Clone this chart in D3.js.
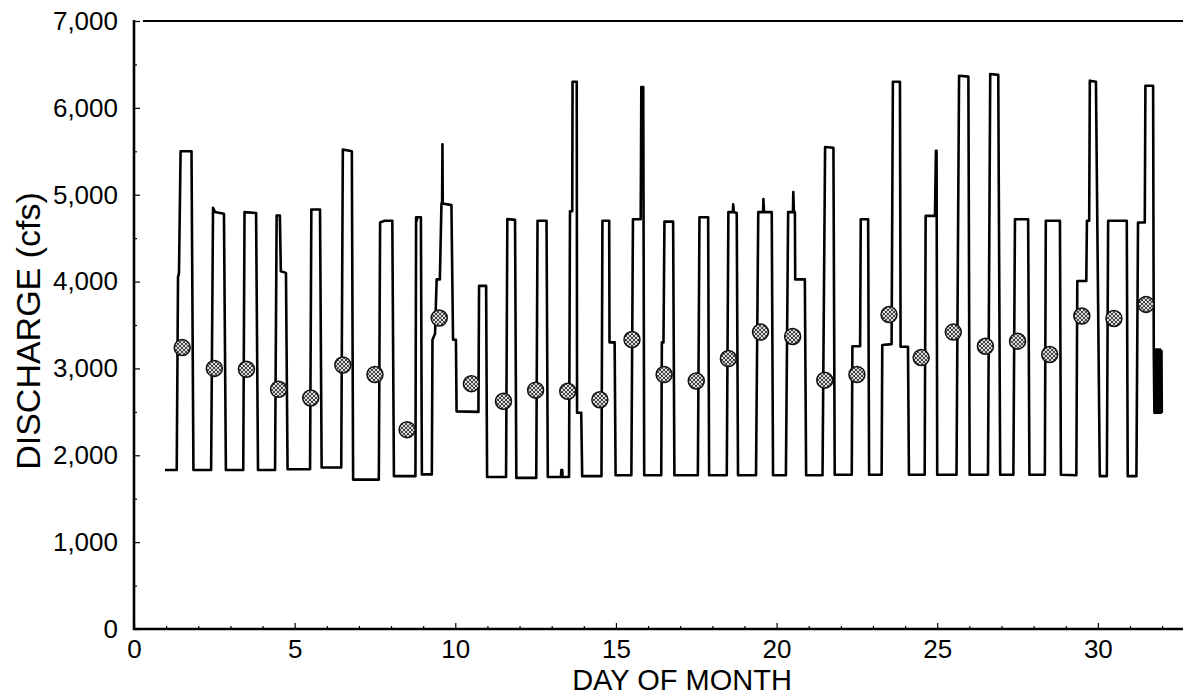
<!DOCTYPE html>
<html>
<head>
<meta charset="utf-8">
<script src="https://cdn.jsdelivr.net/npm/d3@7/dist/d3.min.js"></script>
<style>
  html, body { margin: 0; padding: 0; background: #fff; }
  svg { display: block; font-family: "Liberation Sans", Arial, Helvetica, sans-serif; }
</style>
</head>
<body>
<svg id="chart" width="1186" height="700"></svg>
<script>
// ---- Data ----
// Hourly discharge trace: day of month (fractional) and discharge (cfs)
const lineDays = [
  0.965, 1.33, 1.37, 1.40, 1.45, 1.79, 1.85,
  2.40, 2.46, 2.52, 2.80, 2.86,
  3.40, 3.44, 3.80, 3.86,
  4.39, 4.44, 4.54, 4.57, 4.73, 4.78,
  5.48, 5.52, 5.79, 5.84,
  6.45, 6.50, 6.78, 6.82,
  7.62, 7.66, 7.80, 8.04, 8.09,
  8.76, 8.78, 8.80, 8.81, 8.93, 8.96,
  9.27, 9.29, 9.37, 9.42, 9.52, 9.57, 9.59, 9.60, 9.61, 9.88, 9.93, 10.02, 10.04, 10.72, 10.74, 10.96, 10.99,
  11.58, 11.62, 11.86, 11.90,
  12.52, 12.56, 12.84, 12.88,
  13.29, 13.30, 13.33, 13.34, 13.54, 13.57, 13.64, 13.65, 13.78, 13.79, 13.92, 13.95,
  14.55, 14.58, 14.79, 14.80, 14.96, 14.99,
  15.48, 15.53, 15.77, 15.78, 15.79, 15.85, 15.88,
  16.41, 16.43, 16.48, 16.51, 16.78, 16.82,
  17.55, 17.60, 17.87, 17.90,
  18.45, 18.50, 18.64, 18.65, 18.67, 18.76, 18.80,
  19.36, 19.43, 19.58, 19.59, 19.61, 19.85, 19.89,
  20.29, 20.36, 20.51, 20.52, 20.54, 20.57, 20.58, 20.88, 20.92,
  21.43, 21.51, 21.77, 21.81,
  22.34, 22.36, 22.60, 22.62, 22.85, 22.88,
  23.27, 23.29, 23.58, 23.62, 23.84, 23.86, 24.09, 24.12,
  24.61, 24.64, 24.93, 24.96, 24.98, 25.00,
  25.60, 25.68, 25.97, 26.01,
  26.58, 26.65, 26.90, 26.96,
  27.37, 27.42, 27.83, 27.87,
  28.35, 28.38, 28.82, 28.85,
  29.33, 29.36, 29.64, 29.66, 29.73, 29.75, 29.94, 30.06,
  30.28, 30.32, 30.90, 30.93,
  31.20, 31.25, 31.46, 31.48, 31.72, 31.74,
  31.76, 31.78, 31.80, 31.82, 31.84, 31.86, 31.88, 31.90, 31.92, 31.94, 31.96, 31.98, 31.99
];
const lineFlow = [
  1830, 1830, 4050, 4100, 5500, 5500, 1830,
  1830, 4850, 4800, 4780, 1830,
  1830, 4800, 4790, 1830,
  1830, 4760, 4760, 4120, 4100, 1840,
  1840, 4830, 4830, 1860,
  1860, 5520, 5500, 1720,
  1720, 4680, 4700, 4700, 1760,
  1760, 4740, 4700, 4740, 4740, 1780,
  1780, 3330, 3400, 4025, 4025, 4900, 4900, 5580, 4900, 4880, 3330, 3330, 2506, 2500, 3950, 3950, 1750,
  1750, 4720, 4710, 1740,
  1740, 4700, 4700, 1750,
  1750, 1830, 1830, 1750, 1750, 4810, 4810, 6300, 6300, 2490, 2490, 1760,
  1760, 4700, 4700, 3300, 3300, 1770,
  1770, 4717, 4717, 5350, 6240, 6240, 1770,
  1770, 3300, 3300, 4690, 4690, 1770,
  1770, 4740, 4740, 1770,
  1770, 4800, 4800, 4890, 4800, 4790, 1770,
  1770, 4800, 4800, 4950, 4800, 4800, 1770,
  1770, 4800, 4800, 5030, 4800, 4800, 4025, 4025, 1770,
  1770, 5550, 5540, 1776,
  1776, 3256, 3256, 4717, 4717, 1776,
  1776, 3270, 3280, 6300, 6300, 3250, 3250, 1776,
  1776, 4756, 4756, 5505, 5505, 1776,
  1776, 6370, 6360, 1776,
  1776, 6390, 6380, 1776,
  1776, 4717, 4717, 1776,
  1776, 4700, 4700, 1776,
  1770, 4006, 4006, 4700, 4700, 6313, 6300, 1760,
  1760, 4700, 4700, 1760,
  1760, 4680, 4680, 6255, 6255, 3218,
  2490, 3218, 2490, 3218, 2490, 3218, 2490, 3218, 2490, 3218, 2490, 3200, 2490
];

// Daily mean discharge (plotted at mid-day)
const meanDays = [1.5, 2.5, 3.5, 4.5, 5.5, 6.5, 7.5, 8.5, 9.5, 10.5, 11.5, 12.5, 13.5, 14.5, 15.5,
                  16.5, 17.5, 18.5, 19.5, 20.5, 21.5, 22.5, 23.5, 24.5, 25.5, 26.5, 27.5, 28.5, 29.5, 30.5, 31.5];
const meanFlow = [3240, 3000, 2990, 2760, 2660, 3040, 2930, 2295, 3580, 2825, 2622, 2750, 2737, 2640, 3333,
                  2930, 2855, 3114, 3418, 3368, 2865, 2930, 3620, 3125, 3418, 3256, 3314, 3160, 3603, 3575, 3737];

// Axis ticks
const xTickValues = [0, 5, 10, 15, 20, 25, 30];
const xMinorTicks = [1,2,3,4,6,7,8,9,11,12,13,14,16,17,18,19,21,22,23,24,26,27,28,29,31,32];
const yTickValues = [0, 1000, 2000, 3000, 4000, 5000, 6000, 7000];
const yMinorTicks = [500, 1500, 2500, 3500, 4500, 5500, 6500];

const xTitle = "DAY OF MONTH";
const yTitle = "DISCHARGE (cfs)";

// ---- Layout ----
const plot = { left: 134, right: 1183, top: 21, bottom: 629 };
const svg = d3.select("#chart");

const x = d3.scaleLinear().domain([0, 32.65]).range([plot.left, plot.right]);
const y = d3.scaleLinear().domain([0, 7000]).range([plot.bottom, plot.top]);

// pattern for the daily mean markers
const defs = svg.append("defs");
const pat = defs.append("pattern")
  .attr("id", "hatch").attr("patternUnits", "userSpaceOnUse")
  .attr("width", 4).attr("height", 4);
pat.append("rect").attr("width", 4).attr("height", 4).attr("fill", "#444");
pat.append("path").attr("d", "M0,0 L4,4 M4,0 L0,4")
  .attr("stroke", "#eee").attr("stroke-width", 0.9);

// ---- Axes ----
const fmt = d3.format(",");

const yAxis = svg.append("g").attr("transform", `translate(${plot.left},0)`)
  .call(d3.axisLeft(y).tickValues(yTickValues).tickFormat(fmt).tickSize(-6).tickPadding(16));
svg.append("g").attr("transform", `translate(${plot.left},0)`)
  .call(d3.axisLeft(y).tickValues(yMinorTicks).tickFormat("").tickSize(-3))
  .call(g => g.select(".domain").remove());

const xAxis = svg.append("g").attr("transform", `translate(0,${plot.bottom})`)
  .call(d3.axisBottom(x).tickValues(xTickValues).tickFormat(d3.format("d")).tickSize(-6).tickPadding(11));
svg.append("g").attr("transform", `translate(0,${plot.bottom})`)
  .call(d3.axisBottom(x).tickValues(xMinorTicks).tickFormat("").tickSize(-3))
  .call(g => g.select(".domain").remove());

[yAxis, xAxis].forEach(g => {
  g.select(".domain").remove();
  g.selectAll(".tick text").attr("fill", "#000").attr("font-size", 26)
    .attr("font-family", "'Liberation Sans', Arial, sans-serif");
});
svg.selectAll(".tick line").attr("stroke", "#000").attr("stroke-width", 1.2);

// frame lines
svg.append("line").attr("x1", plot.left).attr("x2", plot.left)
  .attr("y1", plot.top - 1).attr("y2", plot.bottom + 1)
  .attr("stroke", "#000").attr("stroke-width", 2.6);
svg.append("line").attr("x1", plot.left - 1).attr("x2", plot.right)
  .attr("y1", plot.bottom).attr("y2", plot.bottom)
  .attr("stroke", "#000").attr("stroke-width", 2.6);
svg.append("line").attr("x1", plot.left + 9).attr("x2", plot.right)
  .attr("y1", plot.top).attr("y2", plot.top)
  .attr("stroke", "#000").attr("stroke-width", 2.2);

// ---- Discharge trace ----
const pts = lineDays.map((d, i) => [d, lineFlow[i]]);
svg.append("path")
  .datum(pts)
  .attr("fill", "none")
  .attr("stroke", "#000")
  .attr("stroke-width", 2.6)
  .attr("stroke-linejoin", "round")
  .attr("d", d3.line().x(d => x(d[0])).y(d => y(d[1])));

// ---- Daily means ----
svg.append("g").selectAll("circle")
  .data(meanDays.map((d, i) => [d, meanFlow[i]]))
  .join("circle")
  .attr("cx", d => x(d[0]))
  .attr("cy", d => y(d[1]))
  .attr("r", 8)
  .attr("fill", "url(#hatch)")
  .attr("stroke", "#111")
  .attr("stroke-width", 1.5);

// ---- Titles ----
svg.append("text")
  .attr("x", 682)
  .attr("y", 690)
  .attr("text-anchor", "middle")
  .attr("font-size", 29)
  .text(xTitle);

svg.append("text")
  .attr("transform", `translate(40,331) rotate(-90)`)
  .attr("text-anchor", "middle")
  .attr("font-size", 34)
  .text(yTitle);
</script>
</body>
</html>
